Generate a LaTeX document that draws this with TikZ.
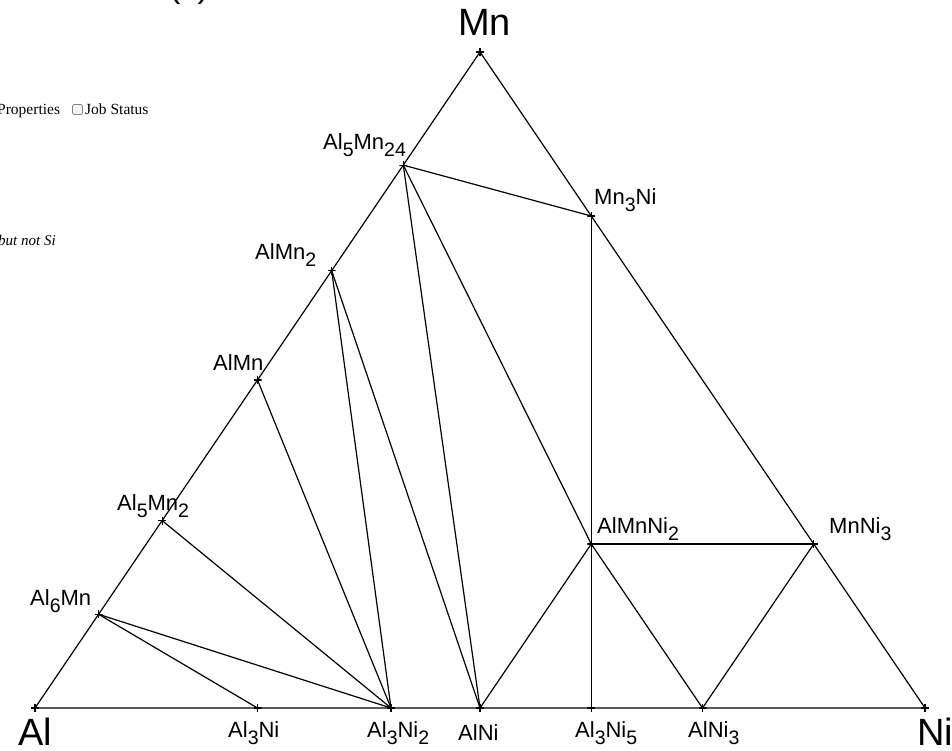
\documentclass[tikz,border=0pt]{standalone}
\usepackage{fontspec}
\setmainfont{Liberation Sans}
\newfontfamily\webserif{Liberation Serif}
\newcommand{\lowsub}[1]{\raisebox{-7pt}{\fontsize{19.5}{22}\selectfont #1}}
\tikzset{
  ptx/.style={inner sep=0pt, minimum size=8pt, shape=rectangle,
    path picture={\draw[line width=1.2pt] (path picture bounding box.north) -- (path picture bounding box.south)
      (path picture bounding box.west) -- (path picture bounding box.east);}},
  edge/.style={line width=1.2pt, black},
  lab/.style={anchor=base west, inner sep=0pt, font=\fontsize{22}{26}\selectfont},
  biglab/.style={anchor=base west, inner sep=0pt, font=\fontsize{38}{44}\selectfont},
  webtxt/.style={anchor=base west, inner sep=0pt, font=\webserif\fontsize{15.5}{18}\selectfont},
}
\begin{document}
\begin{tikzpicture}[x=1pt,y=-1pt]
\useasboundingbox (0,0) rectangle (952,750);
% web page remnants
\node[anchor=base west, inner sep=0pt, font=\fontsize{34}{40}\selectfont] (tc) at (169,-3) {(c)};
\node[webtxt] (tprop) at (-3,114) {Properties};
\node[draw=gray, rounded corners=2pt, line width=0.8pt, inner sep=0pt, minimum width=10pt, minimum height=10pt, fill=gray!8] (tbox) at (77.5,109.5) {};
\node[webtxt] (tjob) at (85,114) {Job Status};
\node[webtxt, font=\webserif\itshape\fontsize{15}{18}\selectfont] (tsi) at (-2,245) {but not Si};
% points
\node[ptx] (Al) at (35,708) {};
\node[ptx] (Ni) at (925,708) {};
\node[ptx] (Mn) at (480,52) {};
\node[ptx] (Al5Mn24) at ({35+445*24/29},{708-656*24/29}) {};
\node[ptx] (Mn3Ni) at ({35+890*0.25+445*0.75},{708-656*0.75}) {};
\node[ptx] (AlMn2) at ({35+445*2/3},{708-656*2/3}) {};
\node[ptx] (AlMn) at ({35+445*0.5},{708-656*0.5}) {};
\node[ptx] (Al5Mn2) at ({35+445*2/7},{708-656*2/7}) {};
\node[ptx] (Al6Mn) at ({35+445/7},{708-656/7}) {};
\node[ptx] (AlMnNi2) at ({35+890*0.5+445*0.25},{708-656*0.25}) {};
\node[ptx] (MnNi3) at ({35+890*0.75+445*0.25},{708-656*0.25}) {};
\node[ptx] (Al3Ni) at ({35+890*0.25},708) {};
\node[ptx] (Al3Ni2) at ({35+890*0.4},708) {};
\node[ptx] (AlNi) at ({35+890*0.5},708) {};
\node[ptx] (Al3Ni5) at ({35+890*0.625},708) {};
\node[ptx] (AlNi3) at ({35+890*0.75},708) {};
% triangle
\draw[edge] (Al.center) -- (Ni.center) -- (Mn.center) -- cycle;
% tie lines
\draw[edge] (Al5Mn24.center) -- (Mn3Ni.center);
\draw[edge] (Al5Mn24.center) -- (AlNi.center);
\draw[edge] (Al5Mn24.center) -- (AlMnNi2.center);
\draw[edge] (AlMn2.center) -- (AlNi.center);
\draw[edge] (AlMn2.center) -- (Al3Ni2.center);
\draw[edge] (AlMn.center) -- (Al3Ni2.center);
\draw[edge] (Al5Mn2.center) -- (Al3Ni2.center);
\draw[edge] (Al6Mn.center) -- (Al3Ni2.center);
\draw[edge] (Al6Mn.center) -- (Al3Ni.center);
\draw[edge] (Mn3Ni.center) -- (AlMnNi2.center);
\draw[edge] (AlMnNi2.center) -- (Al3Ni5.center);
\draw[edge] (AlMnNi2.center) -- (MnNi3.center);
\draw[edge] (AlMnNi2.center) -- (AlNi.center);
\draw[edge] (AlMnNi2.center) -- (AlNi3.center);
\draw[edge] (MnNi3.center) -- (AlNi3.center);
% labels
\node[biglab] (lMn) at (458,35) {Mn};
\node[biglab] (lAl) at (18,745) {Al};
\node[biglab] (lNi) at (917,745) {Ni};
\node[lab] (lAl5Mn24) at (323,149) {Al\lowsub{5}Mn\lowsub{24}};
\node[lab] (lMn3Ni) at (594,204) {Mn\lowsub{3}Ni};
\node[lab] (lAlMn2) at (255,259) {AlMn\lowsub{2}};
\node[lab] (lAlMn) at (213,370) {AlMn};
\node[lab] (lAl5Mn2) at (117,510) {Al\lowsub{5}Mn\lowsub{2}};
\node[lab] (lAl6Mn) at (30,605) {Al\lowsub{6}Mn};
\node[lab] (lAlMnNi2) at (597,533) {AlMnNi\lowsub{2}};
\node[lab] (lMnNi3) at (829,533) {MnNi\lowsub{3}};
\node[lab] (lAl3Ni) at (228,737) {Al\lowsub{3}Ni};
\node[lab] (lAl3Ni2) at (367,737) {Al\lowsub{3}Ni\lowsub{2}};
\node[lab] (lAlNi) at (458,740) {AlNi};
\node[lab] (lAl3Ni5) at (575,737) {Al\lowsub{3}Ni\lowsub{5}};
\node[lab] (lAlNi3) at (688,737) {AlNi\lowsub{3}};
\end{tikzpicture}
\end{document}
